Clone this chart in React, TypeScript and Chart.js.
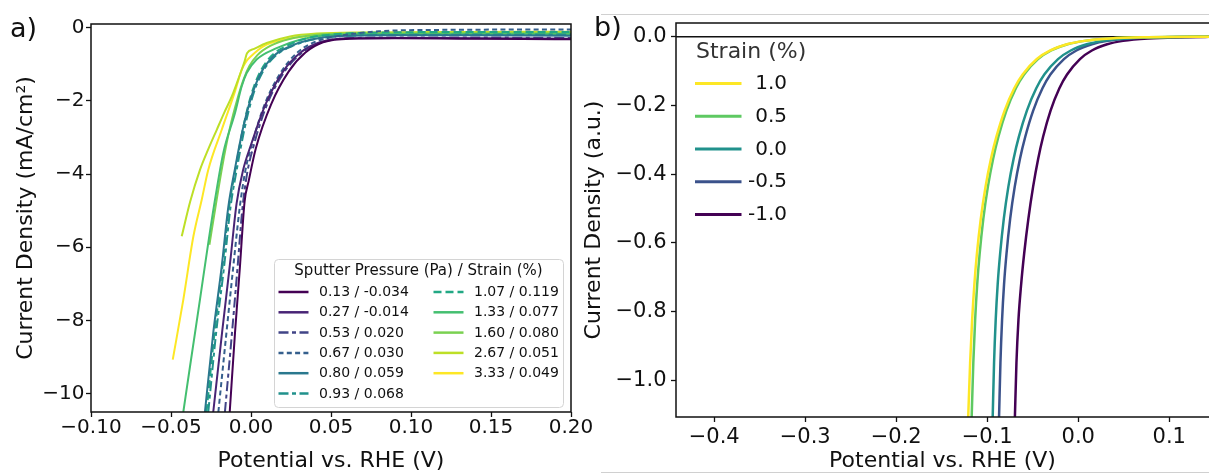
import React, { useEffect, useRef } from "react";
import { Chart, registerables } from "chart.js";

Chart.register(...registerables);

const FONT = "'DejaVu Sans', 'Liberation Sans', sans-serif";
const INK = "#111111";

// ---------------- Panel a : LSV curves (potential V, current mA/cm²) ----------------
const aLegendTitle = "Sputter Pressure (Pa) / Strain (%)";
const aLabels = [
  "0.13 / -0.034",
  "0.27 / -0.014",
  "0.53 / 0.020",
  "0.67 / 0.030",
  "0.80 / 0.059",
  "0.93 / 0.068",
  "1.07 / 0.119",
  "1.33 / 0.077",
  "1.60 / 0.080",
  "2.67 / 0.051",
  "3.33 / 0.049",
];

const a013V = [-0.0133, -0.01, -0.0069, -0.004, -0.0015, 0.003, 0.0125, 0.0235, 0.034, 0.045, 0.062, 0.09, 0.13, 0.17, 0.2];
const a013J = [-10.5, -8.34, -6.52, -4.75, -4.2, -3.3, -2.1, -1.2, -0.68, -0.4, -0.3, -0.29, -0.3, -0.31, -0.32];

const a027V = [-0.0236, -0.018, -0.013, -0.009, -0.005, 0.0, 0.009, 0.02, 0.031, 0.043, 0.06, 0.09, 0.14, 0.2];
const a027J = [-10.5, -8.3, -6.4, -4.8, -3.9, -3.2, -2.1, -1.2, -0.68, -0.4, -0.29, -0.28, -0.29, -0.3];

const a053V = [-0.0163, -0.012, -0.0085, -0.0055, -0.0025, 0.0015, 0.01, 0.021, 0.032, 0.044, 0.06, 0.09, 0.14, 0.2];
const a053J = [-10.5, -8.4, -6.6, -5.0, -4.0, -3.25, -2.1, -1.2, -0.68, -0.4, -0.29, -0.27, -0.27, -0.28];

const a067V = [-0.0204, -0.0155, -0.011, -0.007, -0.0035, 0.0005, 0.0085, 0.019, 0.0295, 0.041, 0.056, 0.08, 0.12, 0.2];
const a067J = [-10.5, -8.4, -6.5, -4.9, -3.9, -3.2, -2.1, -1.2, -0.66, -0.37, -0.22, -0.1, -0.06, -0.05];

const a080V = [-0.0288, -0.0236, -0.0183, -0.0142, -0.01, -0.005, 0.0005, 0.006, 0.014, 0.0244, 0.0369, 0.055, 0.09, 0.14, 0.2];
const a080J = [-10.5, -8.34, -6.52, -4.9, -3.85, -2.75, -1.85, -1.25, -0.78, -0.51, -0.33, -0.23, -0.21, -0.21, -0.22];

const a093V = [-0.0267, -0.0218, -0.0168, -0.0128, -0.0088, -0.004, 0.0012, 0.0068, 0.015, 0.0255, 0.038, 0.056, 0.09, 0.14, 0.2];
const a093J = [-10.5, -8.34, -6.52, -4.9, -3.85, -2.75, -1.85, -1.25, -0.78, -0.51, -0.33, -0.23, -0.2, -0.19, -0.19];

const a107V = [-0.0278, -0.0228, -0.0178, -0.0137, -0.0096, -0.005, 0.0, 0.0052, 0.013, 0.0232, 0.035, 0.052, 0.085, 0.13, 0.2];
const a107J = [-10.5, -8.34, -6.52, -4.9, -3.85, -2.75, -1.85, -1.25, -0.76, -0.48, -0.29, -0.18, -0.13, -0.12, -0.12];

const a133V = [-0.0423, -0.0381, -0.0319, -0.0267, -0.0225, -0.0173, -0.01, -0.0058, -0.0027, 0.0035, 0.016, 0.0306, 0.047, 0.08, 0.14, 0.2];
const a133J = [-10.5, -9.25, -7.43, -5.88, -4.7, -3.42, -2.33, -1.6, -1.24, -0.87, -0.56, -0.33, -0.21, -0.18, -0.18, -0.18];

const a160V = [-0.026, -0.0222, -0.018, -0.0135, -0.0085, -0.0045, -0.001, 0.004, 0.012, 0.024, 0.04, 0.07, 0.13, 0.2];
const a160J = [-5.93, -4.9, -3.8, -2.8, -1.95, -1.4, -1.05, -0.75, -0.5, -0.31, -0.2, -0.16, -0.15, -0.15];

const a267V = [-0.0433, -0.038, -0.032, -0.0265, -0.0214, -0.0165, -0.012, -0.0069, -0.004, -0.0025, 0.002, 0.0098, 0.0244, 0.041, 0.07, 0.13, 0.2];
const a267J = [-5.7, -4.75, -3.9, -3.3, -2.79, -2.3, -1.88, -1.28, -0.92, -0.7, -0.58, -0.42, -0.24, -0.16, -0.13, -0.12, -0.11];

const a333V = [-0.0489, -0.0423, -0.036, -0.0308, -0.0267, -0.0183, -0.01, -0.0058, -0.003, 0.0, 0.0077, 0.0202, 0.0369, 0.06, 0.12, 0.2];
const a333J = [-9.07, -7.43, -5.7, -4.7, -3.88, -2.79, -1.74, -1.15, -0.92, -0.78, -0.51, -0.33, -0.22, -0.17, -0.15, -0.14];

const aV = [a013V, a027V, a053V, a067V, a080V, a093V, a107V, a133V, a160V, a267V, a333V];
const aJ = [a013J, a027J, a053J, a067J, a080J, a093J, a107J, a133J, a160J, a267J, a333J];

const aColors = ["#440154", "#482475", "#414487", "#355f8d", "#2a788e", "#21918c", "#22a884", "#44bf70", "#7ad151", "#bddf26", "#fde725"];
const DASHDOT = [10, 3.5, 4, 3.5];
const DOTTED = [5, 3.3];
const DASHED = [8, 4];
const aDashes: number[][] = [[], [], DASHDOT, DOTTED, [], DASHDOT, DASHED, [], [], [], []];

const aXTicks = { min: -0.1, max: 0.2, step: 0.05 };
const aYTicks = { min: -10.5, max: 0.1, step: 2 };

// ---------------- Panel b : normalised curves (potential V, current a.u.) ----------------
const bLegendTitle = "Strain (%)";
const bLabels = ["1.0", "0.5", "0.0", "-0.5", "-1.0"];

const bJ = [-1.107, -0.95, -0.825, -0.72, -0.631, -0.53, -0.437, -0.355, -0.291, -0.215, -0.15, -0.11, -0.065, -0.04, -0.022, -0.012, -0.005, -0.0015, 0];
const bV10 = [-0.1209, -0.1188, -0.1166, -0.1141, -0.1113, -0.1071, -0.1019, -0.0959, -0.0899, -0.0809, -0.0703, -0.0611, -0.0455, -0.0307, -0.0125, 0.0066, 0.0348, 0.077, 0.15];
const bV05 = [-0.1171, -0.1153, -0.1133, -0.111, -0.1083, -0.1043, -0.0993, -0.0935, -0.0877, -0.0789, -0.0685, -0.0595, -0.0442, -0.0297, -0.0117, 0.0071, 0.0351, 0.0771, 0.15];
const bV00 = [-0.094, -0.0925, -0.0907, -0.0885, -0.0858, -0.0818, -0.0768, -0.071, -0.0652, -0.0564, -0.0461, -0.0373, -0.0222, -0.0082, 0.0093, 0.0271, 0.0531, 0.0911, 0.15];
const bVm05 = [-0.087, -0.0855, -0.0837, -0.0815, -0.0788, -0.0748, -0.0698, -0.064, -0.0582, -0.0495, -0.0393, -0.0306, -0.0157, -0.002, 0.0151, 0.0323, 0.0576, 0.0946, 0.15];
const bVm10 = [-0.0696, -0.0679, -0.0657, -0.0627, -0.0594, -0.0548, -0.0496, -0.044, -0.0386, -0.0304, -0.0207, -0.0123, 0.0019, 0.015, 0.0318, 0.0493, 0.0765, 0.1186, 0.15];

const bV = [bV10, bV05, bV00, bVm05, bVm10];
const bColors = ["#fde725", "#5ec962", "#21918c", "#3b528b", "#440154"];

const bXTicks = { min: -0.442, max: 0.1437, step: 0.1 };
const bYTicks = { min: -1.107, max: 0.04, step: 0.2 };

// ---------------- helpers ----------------
const fmt = (digits: number) => (value: any) => {
  let v = Number(value);
  if (Math.abs(v) < 1e-9) v = 0;
  const s = v.toFixed(digits);
  return s.startsWith("-") ? "\u2212" + s.slice(1) : s;
};

const spines = (sides: { left: boolean; top: boolean; right: boolean; bottom: boolean }) => ({
  id: "spines",
  afterDatasetsDraw(chart: any) {
    const { ctx, chartArea } = chart;
    const { left, top, right, bottom } = chartArea;
    ctx.save();
    ctx.strokeStyle = INK;
    ctx.lineWidth = 1.5;
    ctx.lineCap = "square";
    ctx.beginPath();
    if (sides.top) { ctx.moveTo(left, top); ctx.lineTo(right, top); }
    if (sides.bottom) { ctx.moveTo(left, bottom); ctx.lineTo(right, bottom); }
    if (sides.left) { ctx.moveTo(left, top); ctx.lineTo(left, bottom); }
    if (sides.right) { ctx.moveTo(right, top); ctx.lineTo(right, bottom); }
    ctx.stroke();
    ctx.restore();
  },
});

const zeroLine = {
  id: "zeroLine",
  beforeDatasetsDraw(chart: any) {
    const { ctx, chartArea, scales } = chart;
    const y = scales.y.getPixelForValue(0);
    ctx.save();
    ctx.strokeStyle = INK;
    ctx.lineWidth = 1.6;
    ctx.beginPath();
    ctx.moveTo(chartArea.left, y);
    ctx.lineTo(chartArea.right, y);
    ctx.stroke();
    ctx.restore();
  },
};

const roundRect = (ctx: CanvasRenderingContext2D, x: number, y: number, w: number, h: number, r: number) => {
  ctx.beginPath();
  ctx.moveTo(x + r, y);
  ctx.lineTo(x + w - r, y);
  ctx.arcTo(x + w, y, x + w, y + r, r);
  ctx.lineTo(x + w, y + h - r);
  ctx.arcTo(x + w, y + h, x + w - r, y + h, r);
  ctx.lineTo(x + r, y + h);
  ctx.arcTo(x, y + h, x, y + h - r, r);
  ctx.lineTo(x, y + r);
  ctx.arcTo(x, y, x + r, y, r);
  ctx.closePath();
};

const legendA = {
  id: "legendA",
  afterDatasetsDraw(chart: any) {
    const { ctx, chartArea } = chart;
    const bw = 289, bh = 148;
    const bx = chartArea.right - 8 - bw;
    const by = chartArea.bottom - 5 - bh;
    ctx.save();
    roundRect(ctx, bx + 0.5, by + 0.5, bw, bh, 4);
    ctx.fillStyle = "rgba(255,255,255,0.8)";
    ctx.fill();
    ctx.strokeStyle = "#d4d4d4";
    ctx.lineWidth = 1;
    ctx.stroke();
    ctx.fillStyle = INK;
    ctx.textBaseline = "middle";
    ctx.textAlign = "center";
    ctx.font = `15px ${FONT}`;
    ctx.fillText(aLegendTitle, bx + bw / 2, by + 12);
    ctx.font = `14px ${FONT}`;
    ctx.textAlign = "left";
    chart.data.datasets.forEach((ds: any, i: number) => {
      const col = i < 6 ? 0 : 1;
      const row = col === 0 ? i : i - 6;
      const y = by + 33 + row * 20.3;
      const x0 = bx + (col === 0 ? 4.5 : 159.5);
      ctx.strokeStyle = ds.borderColor;
      ctx.lineWidth = 2.5;
      ctx.setLineDash(ds.borderDash || []);
      ctx.beginPath();
      ctx.moveTo(x0, y);
      ctx.lineTo(x0 + 30, y);
      ctx.stroke();
      ctx.setLineDash([]);
      ctx.fillText(ds.label, bx + (col === 0 ? 45 : 200), y + 0.5);
    });
    ctx.restore();
  },
};

const legendB = {
  id: "legendB",
  afterDatasetsDraw(chart: any) {
    const { ctx, chartArea } = chart;
    const L = chartArea.left, T = chartArea.top;
    ctx.save();
    ctx.textBaseline = "middle";
    ctx.textAlign = "left";
    ctx.fillStyle = "#333333";
    ctx.font = `22px ${FONT}`;
    ctx.fillText(bLegendTitle, L + 20, T + 29);
    ctx.font = `20px ${FONT}`;
    ctx.textAlign = "right";
    ctx.fillStyle = INK;
    chart.data.datasets.forEach((ds: any, i: number) => {
      const y = T + 60.5 + i * 32.75;
      ctx.strokeStyle = ds.borderColor;
      ctx.lineWidth = 3;
      ctx.beginPath();
      ctx.moveTo(L + 19, y);
      ctx.lineTo(L + 65.5, y);
      ctx.stroke();
      ctx.fillText(ds.label, L + 111, y + 0.5);
    });
    ctx.restore();
  },
};

const axisCommon = (tickSize: number, pad: number, lh: number) => ({
  type: "linear" as const,
  ticks: {
    includeBounds: false,
    autoSkip: false,
    maxRotation: 0,
    color: INK,
    padding: pad,
    font: { family: FONT, size: tickSize, lineHeight: lh },
  },
  grid: {
    display: true,
    drawOnChartArea: false,
    drawTicks: true,
    tickLength: 5,
    tickWidth: 1.3,
    tickColor: INK,
  },
  border: { display: false },
});

export default function App() {
  const refA = useRef<HTMLCanvasElement>(null);
  const refB = useRef<HTMLCanvasElement>(null);

  useEffect(() => {
    const dsA = aLabels.map((label, i) => ({
      label,
      data: aV[i].map((v, k) => ({ x: v, y: aJ[i][k] })),
      borderColor: aColors[i],
      borderWidth: 2,
      borderDash: aDashes[i],
      borderJoinStyle: "round" as const,
      pointRadius: 0,
      fill: false,
      cubicInterpolationMode: "monotone" as const,
      clip: 0,
    }));

    const chartA = new Chart(refA.current as HTMLCanvasElement, {
      type: "line",
      data: { datasets: dsA },
      options: {
        animation: false,
        responsive: false,
        events: [],
        layout: { padding: { left: 0, top: 24, right: 29, bottom: 0 } },
        plugins: { legend: { display: false }, tooltip: { enabled: false } },
        scales: {
          x: {
            ...axisCommon(20, 0, 1.1),
            min: aXTicks.min,
            max: aXTicks.max,
            ticks: { ...axisCommon(20, 0, 1.1).ticks, stepSize: aXTicks.step, callback: fmt(2) },
            title: { display: true, text: "Potential vs. RHE (V)", color: INK, font: { family: FONT, size: 22 }, padding: { top: 0, bottom: 0 } },
            afterFit: (s: any) => { s.height = 62; },
          },
          y: {
            ...axisCommon(20, 1.5, 1.1),
            min: aYTicks.min,
            max: aYTicks.max,
            ticks: { ...axisCommon(20, 1.5, 1.1).ticks, stepSize: aYTicks.step, callback: fmt(0) },
            title: { display: true, text: "Current Density (mA/cm\u00b2)", color: INK, font: { family: FONT, size: 22 }, padding: { top: 13.5, bottom: 0 } },
            afterFit: (s: any) => { s.width = 91; },
          },
        },
      } as any,
      plugins: [spines({ left: true, top: true, right: true, bottom: true }), legendA],
    });

    const dsB = bLabels.map((label, i) => ({
      label,
      data: bV[i].map((v, k) => ({ x: v, y: bJ[k] })),
      borderColor: bColors[i],
      borderWidth: 2.5,
      borderJoinStyle: "round" as const,
      pointRadius: 0,
      fill: false,
      cubicInterpolationMode: "monotone" as const,
      clip: 0,
    }));

    const chartB = new Chart(refB.current as HTMLCanvasElement, {
      type: "line",
      data: { datasets: dsB },
      options: {
        animation: false,
        responsive: false,
        events: [],
        layout: { padding: { left: 0, top: 23, right: 0, bottom: 0 } },
        plugins: { legend: { display: false }, tooltip: { enabled: false } },
        scales: {
          x: {
            ...axisCommon(21, 3.5, 1.1),
            min: bXTicks.min,
            max: bXTicks.max,
            ticks: { ...axisCommon(21, 3.5, 1.1).ticks, stepSize: bXTicks.step, callback: fmt(1) },
            title: { display: true, text: "Potential vs. RHE (V)", color: INK, font: { family: FONT, size: 22 }, padding: { top: 0, bottom: 0 } },
            afterFit: (s: any) => { s.height = 57; },
          },
          y: {
            ...axisCommon(21, 4.5, 1.1),
            min: bYTicks.min,
            max: bYTicks.max,
            ticks: { ...axisCommon(21, 4.5, 1.1).ticks, stepSize: bYTicks.step, callback: fmt(1) },
            title: { display: true, text: "Current Density (a.u.)", color: INK, font: { family: FONT, size: 22 }, padding: { top: 6.3, bottom: 0 } },
            afterFit: (s: any) => { s.width = 101; },
          },
        },
      } as any,
      plugins: [zeroLine, spines({ left: true, top: true, right: false, bottom: true }), legendB],
    });

    return () => {
      chartA.destroy();
      chartB.destroy();
    };
  }, []);

  const panelLabel: React.CSSProperties = {
    position: "absolute",
    fontFamily: FONT,
    fontSize: 27,
    lineHeight: "27px",
    color: INK,
    whiteSpace: "nowrap",
  };

  return (
    <div style={{ position: "absolute", left: 0, top: 0, width: 1209, height: 474, overflow: "hidden", background: "#ffffff" }}>
      <canvas ref={refA} width={600} height={474} style={{ position: "absolute", left: 0, top: 0 }} />
      <canvas ref={refB} width={634} height={474} style={{ position: "absolute", left: 575, top: 0 }} />
      <div style={{ ...panelLabel, left: 10, top: 13.5 }}>a)</div>
      <div style={{ ...panelLabel, left: 594, top: 13 }}>b)</div>
      <div style={{ position: "absolute", left: 601, top: 14, width: 608, height: 1, background: "#d0d0d0" }} />
      <div style={{ position: "absolute", left: 601, top: 472, width: 608, height: 2, background: "#ffffff", borderTop: "1px solid #d0d0d0", boxSizing: "border-box" }} />
    </div>
  );
}
